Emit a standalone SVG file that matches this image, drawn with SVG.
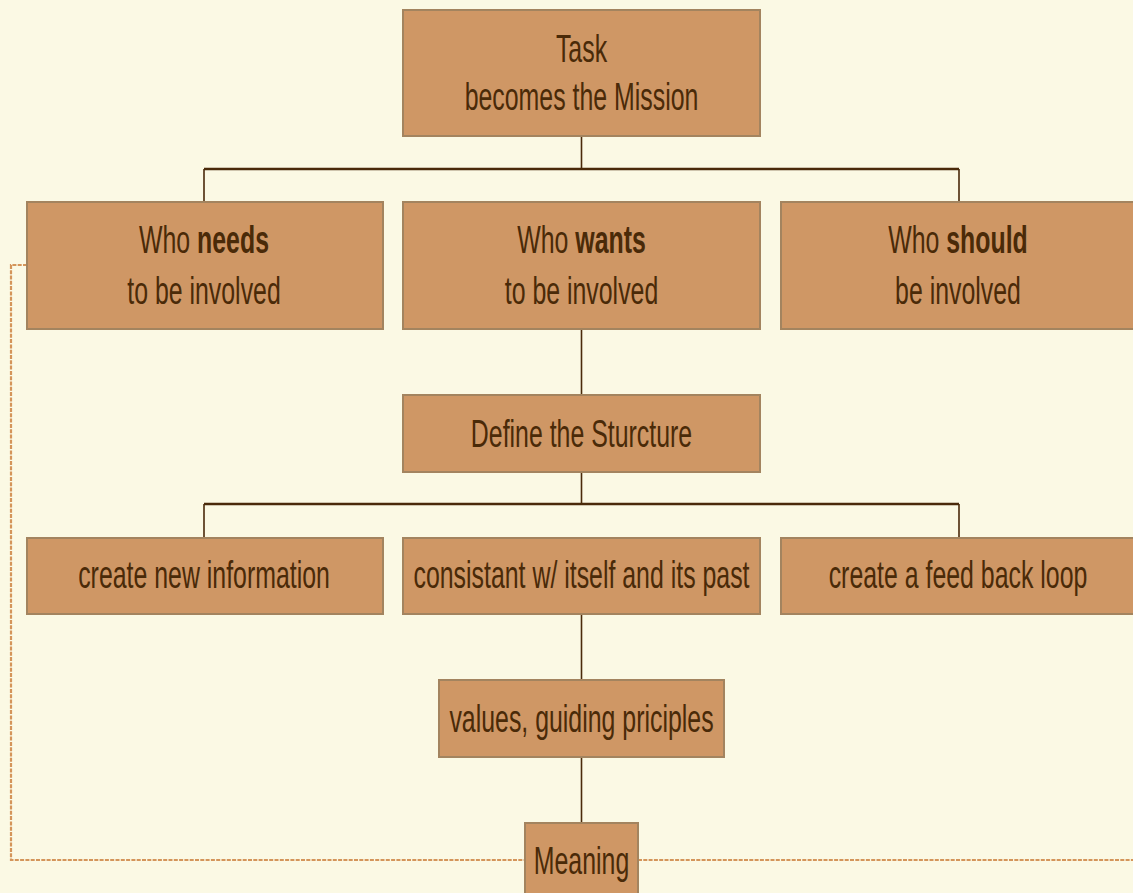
<svg xmlns="http://www.w3.org/2000/svg" width="1133" height="893" viewBox="0 0 1133 893">
<style>
.bg{fill:#FBF9E4}
.box{fill:#CF9765;stroke:#A3845F;stroke-width:2}
.t{font-family:"Liberation Sans",Arial,sans-serif;font-size:38px;fill:#4A2A08;text-anchor:middle}
.b{font-weight:bold}
.h{fill:none;stroke:#4A2A0A;stroke-width:2.5}
.v{fill:none;stroke:#4A2A0A;stroke-width:1.6}
.dot{fill:none;stroke:#D4955A;stroke-width:2.2;stroke-dasharray:4 1.3}
</style>
<rect class="bg" x="0" y="0" width="1133" height="893"/>
<g id="connectors">
<path class="dot" d="M27,265 H11 V860 H526 M638,860 H1133"/>
<path class="v" d="M581.5,136 V169 M204,169 V202 M959,169 V202"/>
<path class="h" d="M204,169 H959"/>
<path class="v" d="M581.5,329 V395"/>
<path class="v" d="M581.5,472 V504 M204,504 V538 M959,504 V538"/>
<path class="h" d="M204,504 H959"/>
<path class="v" d="M581.5,614 V680"/>
<path class="v" d="M581.5,757 V823"/>
</g>
<g id="task">
<rect class="box" x="403" y="10" width="357" height="126"/>
<text class="t" transform="matrix(0.655 0 0 1 581.5 0)" x="0" y="62">Task</text>
<text class="t" transform="matrix(0.655 0 0 1 581.5 0)" x="0" y="110">becomes the Mission</text>
</g>
<g id="needs">
<rect class="box" x="27" y="202" width="356" height="127"/>
<text class="t" transform="matrix(0.655 0 0 1 204 0)" x="0" y="253">Who <tspan class="b">needs</tspan></text>
<text class="t" transform="matrix(0.655 0 0 1 204 0)" x="0" y="304">to be involved</text>
</g>
<g id="wants">
<rect class="box" x="403" y="202" width="357" height="127"/>
<text class="t" transform="matrix(0.655 0 0 1 581.5 0)" x="0" y="253">Who <tspan class="b">wants</tspan></text>
<text class="t" transform="matrix(0.655 0 0 1 581.5 0)" x="0" y="304">to be involved</text>
</g>
<g id="should">
<rect class="box" x="781" y="202" width="356" height="127"/>
<text class="t" transform="matrix(0.655 0 0 1 958 0)" x="0" y="253">Who <tspan class="b">should</tspan></text>
<text class="t" transform="matrix(0.655 0 0 1 958 0)" x="0" y="304">be involved</text>
</g>
<g id="structure">
<rect class="box" x="403" y="395" width="357" height="77"/>
<text class="t" transform="matrix(0.655 0 0 1 581.5 0)" x="0" y="447">Define the Sturcture</text>
</g>
<g id="newinfo">
<rect class="box" x="27" y="538" width="356" height="76"/>
<text class="t" transform="matrix(0.655 0 0 1 204 0)" x="0" y="588">create new information</text>
</g>
<g id="consistant">
<rect class="box" x="403" y="538" width="357" height="76"/>
<text class="t" transform="matrix(0.655 0 0 1 581.5 0)" x="0" y="588">consistant w/ itself and its past</text>
</g>
<g id="feedback">
<rect class="box" x="781" y="538" width="356" height="76"/>
<text class="t" transform="matrix(0.655 0 0 1 958 0)" x="0" y="588">create a feed back loop</text>
</g>
<g id="values">
<rect class="box" x="439" y="680" width="285" height="77"/>
<text class="t" transform="matrix(0.655 0 0 1 581.5 0)" x="0" y="732">values, guiding priciples</text>
</g>
<g id="meaning">
<rect class="box" x="525" y="823" width="113" height="90"/>
<text class="t" transform="matrix(0.655 0 0 1 581.5 0)" x="0" y="874">Meaning</text>
</g>
</svg>
